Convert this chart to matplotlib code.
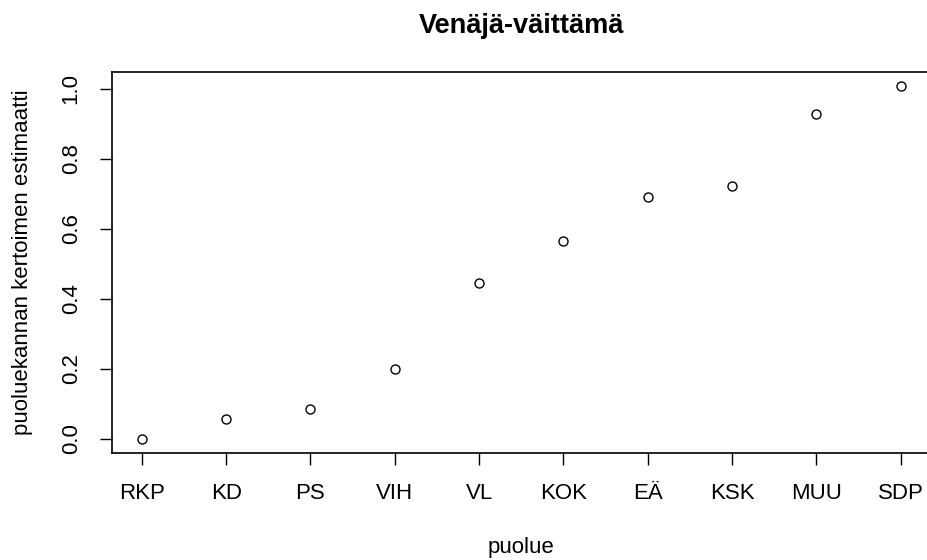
import numpy as np
import matplotlib
matplotlib.use('Agg')
import matplotlib.pyplot as plt

# puolueet ja kertoimien estimaatit
puolueet = ['RKP', 'KD', 'PS', 'VIH', 'VL', 'KOK', 'EÄ', 'KSK', 'MUU', 'SDP']
estimaatit = [0.0, 0.057, 0.085, 0.200, 0.444, 0.565, 0.691, 0.722, 0.928, 1.007]
y_ticks = [0.0, 0.2, 0.4, 0.6, 0.8, 1.0]

plt.rcParams['font.family'] = ['Liberation Sans', 'DejaVu Sans']

fig = plt.figure(figsize=(9.27, 5.6), dpi=100)
# kuva on rajattu oikealta, joten akseli jatkuu reunan yli
ax = fig.add_axes([111.5 / 927, 1 - 453 / 560, 819.5 / 927, 381 / 560])

x = np.arange(1, len(puolueet) + 1)
ax.plot(x, estimaatit, linestyle='none', marker='o', markersize=6.5,
        markerfacecolor='white', markeredgecolor='black', markeredgewidth=1.0)

# R-tyylinen 4% marginaali
ymin, ymax = min(estimaatit), max(estimaatit)
dy = (ymax - ymin) * 0.04
ax.set_xlim(1 - 9 * 0.04, len(puolueet) + 9 * 0.04)
ax.set_ylim(ymin - dy, ymax + dy)

ax.set_xticks(x)
ax.set_xticklabels(puolueet)
ax.set_yticks(y_ticks)
ax.set_yticklabels(['%.1f' % v for v in y_ticks], rotation=90, va='center')
ax.tick_params(axis='both', labelsize=16, length=8.5, width=1.0, pad=13)

for s in ax.spines.values():
    s.set_linewidth(1.2)

ax.set_title('Venäjä-väittämä', fontsize=19.5, fontweight='bold', pad=28)
ax.set_xlabel('puolue', fontsize=16, labelpad=24)
ax.set_ylabel('puoluekannan kertoimen estimaatti', fontsize=16, labelpad=20)

fig.savefig('out.png', dpi=100)
